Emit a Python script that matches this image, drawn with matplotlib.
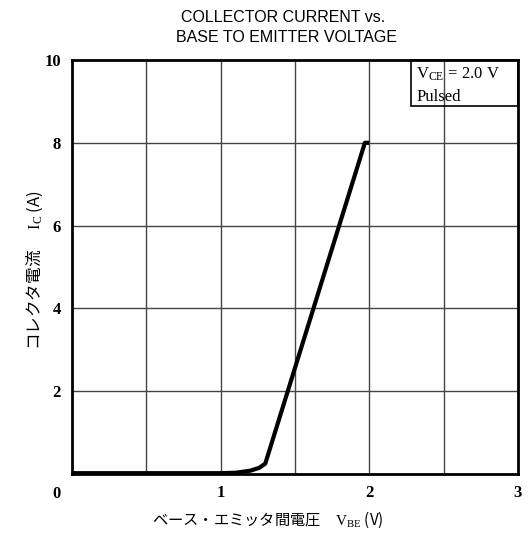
import matplotlib
matplotlib.use("Agg")
import matplotlib.pyplot as plt
from matplotlib.patches import Rectangle

# Data
vbe = [0.0, 0.5, 1.0, 1.1, 1.2, 1.26, 1.30, 1.97, 2.0]
ic = [0.02, 0.02, 0.02, 0.03, 0.08, 0.15, 0.25, 8.0, 8.0]
x_ticks = [1, 2, 3]
y_ticks = [2, 4, 6, 8, 10]

plt.rcParams['mathtext.fontset'] = 'custom'
plt.rcParams['mathtext.rm'] = 'Liberation Serif'
plt.rcParams['mathtext.it'] = 'Liberation Serif'

fig = plt.figure(figsize=(5.28, 5.39), dpi=100)
ax = fig.add_axes([72/528, 1-474/539, 446/528, 414/539])

ax.plot(vbe, ic, color='black', lw=3, solid_capstyle='butt', zorder=3)

ax.set_xlim(0, 3)
ax.set_ylim(0, 10)
ax.set_xticks(x_ticks)
ax.set_yticks(y_ticks)
for v in [0.5, 1, 1.5, 2, 2.5]:
    ax.axvline(v, color='#444444', lw=1.0, zorder=1)
for v in [2, 4, 6, 8]:
    ax.axhline(v, color='#444444', lw=1.0, zorder=1)
ax.tick_params(length=0, pad=8)
serif = {'family': 'Liberation Serif', 'weight': 'bold', 'size': 12}
ax.set_xticklabels([str(t) for t in x_ticks], fontdict=serif)
ax.set_yticklabels([str(t) for t in y_ticks], fontdict=serif)
ax.text(-0.025, -0.03, '0', transform=ax.transAxes, ha='right', va='top', **serif)
for s in ax.spines.values():
    s.set_linewidth(2)

# legend box
ax.add_patch(Rectangle((0.759, 0.89), 0.241, 0.11, transform=ax.transAxes,
                       fill=False, lw=1.2, edgecolor='black', zorder=4, clip_on=False))
ax.text(0.772, 0.965, r'V$_{\mathrm{CE}}$ = 2.0 V', transform=ax.transAxes,
        family='Liberation Serif', size=12, va='center', ha='left')
ax.text(0.772, 0.91, 'Pulsed', transform=ax.transAxes,
        family='Liberation Serif', size=12, va='center', ha='left')

fig.text(283/528, 1-18/539, 'COLLECTOR CURRENT vs.', ha='center', va='center',
         family='Liberation Sans', size=11.5)
fig.text(287/528, 1-37/539, 'BASE TO EMITTER VOLTAGE', ha='center', va='center',
         family='Liberation Sans', size=11.5)

jp = ['Noto Sans CJK JP', 'DejaVu Sans']
fig.text(268/528, 1-520/539, 'ベース・エミッタ間電圧　$\\mathrm{V_{BE}}$ (V)', ha='center', va='center',
         family=jp, size=11)
fig.text(35/528, 1-270/539, 'コレクタ電流　 $\\mathrm{I_{C}}$ (A)', ha='center', va='center',
         family=jp, size=12, rotation=90)

fig.savefig('out.png', dpi=100)
